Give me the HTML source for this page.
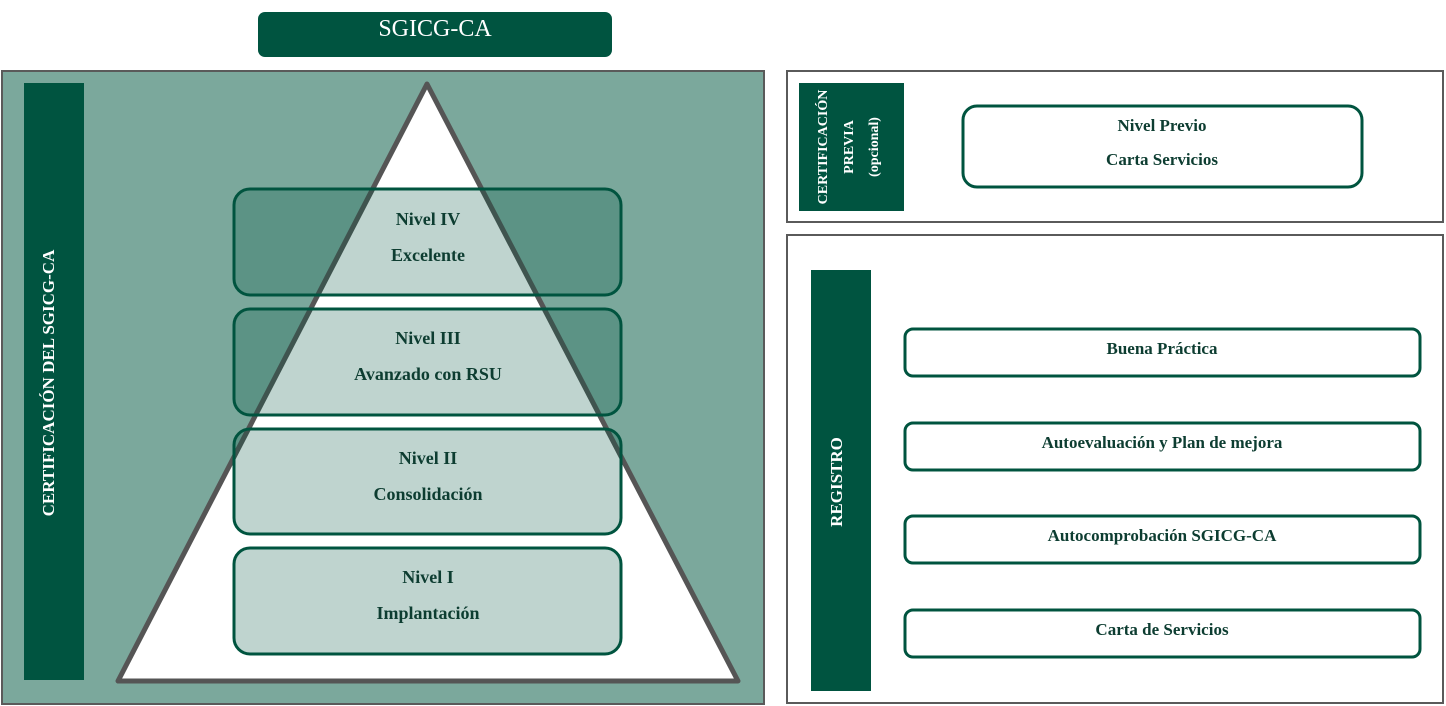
<!DOCTYPE html>
<html><head><meta charset="utf-8"><style>
body{margin:0;width:1446px;height:706px;background:#fff;overflow:hidden;}
svg{display:block}
text{font-family:"Liberation Serif",serif;}
</style></head><body>
<svg width="1446" height="706" viewBox="0 0 1446 706">
<!-- title -->
<rect x="258" y="12" width="354" height="45" rx="7" fill="#005440"/>
<text x="435" y="36" font-size="24" fill="#fff" text-anchor="middle">SGICG-CA</text>
<!-- left panel -->
<rect x="2" y="71" width="762" height="633" fill="#7ba89c" stroke="#5a5a5a" stroke-width="2"/>
<rect x="24" y="83" width="60" height="597" fill="#005440"/>
<text transform="translate(50,383) rotate(-90)" font-size="17" font-weight="bold" fill="#fff" text-anchor="middle" dominant-baseline="middle">CERTIFICACIÓN DEL SGICG-CA</text>
<polygon points="427,84 118,681 738,681" fill="#fff" stroke="#555" stroke-width="5" stroke-linejoin="round"/>
<g fill="rgba(0,84,64,0.25)" stroke="#00543f" stroke-width="3">
<rect x="234" y="189" width="387" height="106" rx="16"/>
<rect x="234" y="309" width="387" height="106" rx="16"/>
<rect x="234" y="429" width="387" height="105" rx="16"/>
<rect x="234" y="548" width="387" height="106" rx="16"/>
</g>
<g font-size="18" font-weight="bold" fill="#0d3d31" text-anchor="middle">
<text x="428" y="225">Nivel IV</text><text x="428" y="261">Excelente</text>
<text x="428" y="344">Nivel III</text><text x="428" y="380">Avanzado con RSU</text>
<text x="428" y="464">Nivel II</text><text x="428" y="500">Consolidación</text>
<text x="428" y="583">Nivel I</text><text x="428" y="619">Implantación</text>
</g>
<!-- right top panel -->
<rect x="787" y="71" width="656" height="151" fill="#fff" stroke="#5a5a5a" stroke-width="2"/>
<rect x="799" y="83" width="105" height="128" fill="#005440"/>
<g font-size="14" font-weight="bold" fill="#fff" text-anchor="middle" dominant-baseline="middle">
<text transform="translate(824,147) rotate(-90)">CERTIFICACIÓN</text>
<text transform="translate(850,147) rotate(-90)">PREVIA</text>
<text transform="translate(875,147) rotate(-90)">(opcional)</text>
</g>
<rect x="963" y="106" width="399" height="81" rx="14" fill="#fff" stroke="#00543f" stroke-width="3"/>
<g font-size="17" font-weight="bold" fill="#0d3d31" text-anchor="middle">
<text x="1162" y="131">Nivel Previo</text><text x="1162" y="165">Carta Servicios</text>
</g>
<!-- right bottom panel -->
<rect x="787" y="235" width="656" height="468" fill="#fff" stroke="#5a5a5a" stroke-width="2"/>
<rect x="811" y="270" width="60" height="421" fill="#005440"/>
<text transform="translate(838,482) rotate(-90)" font-size="17" font-weight="bold" fill="#fff" text-anchor="middle" dominant-baseline="middle">REGISTRO</text>
<g fill="#fff" stroke="#00543f" stroke-width="3">
<rect x="905" y="329" width="515" height="47" rx="8"/>
<rect x="905" y="423" width="515" height="47" rx="8"/>
<rect x="905" y="516" width="515" height="47" rx="8"/>
<rect x="905" y="610" width="515" height="47" rx="8"/>
</g>
<g font-size="17" font-weight="bold" fill="#0d3d31" text-anchor="middle">
<text x="1162" y="354">Buena Práctica</text>
<text x="1162" y="448">Autoevaluación y Plan de mejora</text>
<text x="1162" y="541">Autocomprobación SGICG-CA</text>
<text x="1162" y="635">Carta de Servicios</text>
</g>
</svg>
</body></html>
